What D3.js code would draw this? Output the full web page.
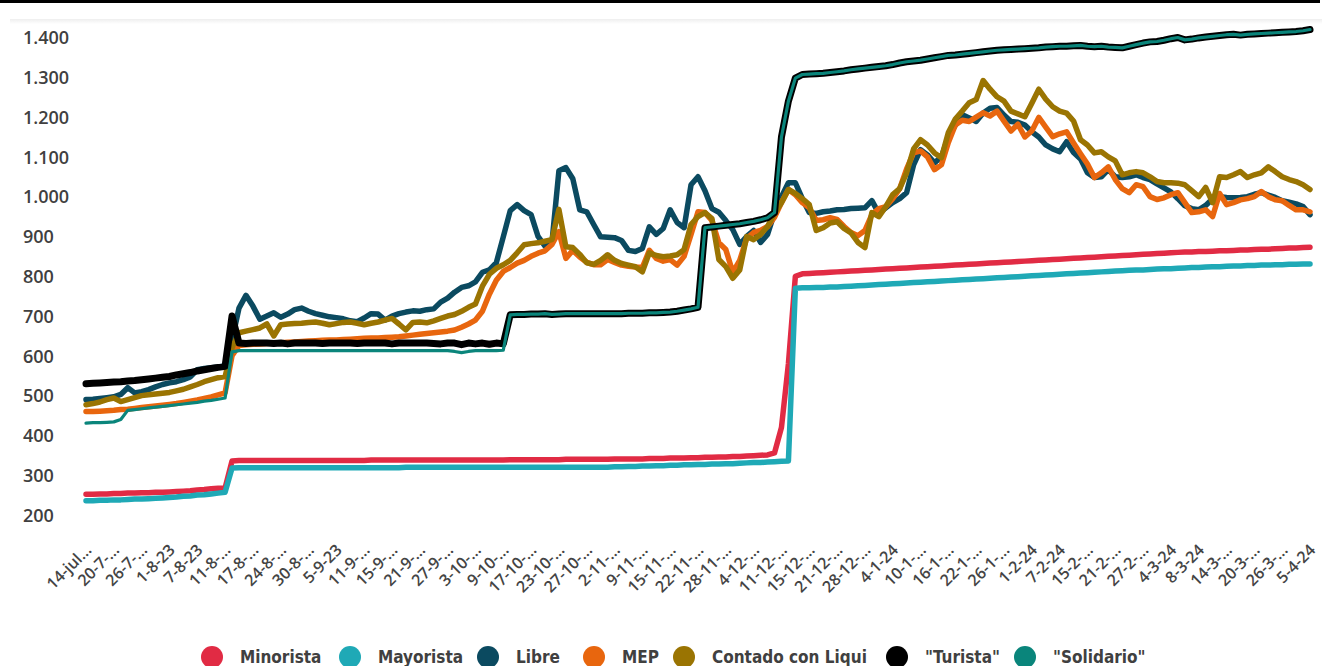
<!DOCTYPE html>
<html>
<head>
<meta charset="utf-8">
<script src="https://cdn.jsdelivr.net/npm/d3@7"></script>
<style>
  html, body { margin: 0; padding: 0; background: #fff; }
  svg { display: block; }
</style>
</head>
<body>
<svg id="chart" width="1322" height="666"></svg>
<script>
// Business-day labels shown under the axis (one every 4 trading days)
const tickLabels = ["14-jul…","20-7-…","26-7-…","1-8-23","7-8-23","11-8-…","17-8-…","24-8-…","30-8-…","5-9-23",
  "11-9-…","15-9-…","21-9-…","27-9-…","3-10-…","9-10-…","17-10-…","23-10-…","27-10-…","2-11-…",
  "9-11-…","15-11-…","22-11-…","28-11-…","4-12-…","11-12-…","15-12-…","21-12-…","28-12-…","4-1-24",
  "10-1-…","16-1-…","22-1-…","26-1-…","1-2-24","7-2-24","15-2-…","21-2-…","27-2-…","4-3-24",
  "8-3-24","14-3-…","20-3-…","26-3-…","5-4-24"];

const yTicks = [200,300,400,500,600,700,800,900,1000,1100,1200,1300,1400];

const seriesNames = ["Minorista","Mayorista","Libre","MEP","Contado con Liqui","\"Turista\"","\"Solidario\""];

// Daily quotes (ARS per USD), one value per trading day
const minorista = [252,252,253,253,254,254,255,255,256,256,257,257,258,259,260,261,263,264,266,267,268,
  336,
  337,337,337,337,337,337,337,337,337,337,337,337,337,337,337,337,337,337,337,
  338,338,338,338,338,338,338,338,338,338,338,338,338,338,338,338,338,338,338,338,
  339,339,339,339,339,339,339,339,340,340,340,340,340,340,340,341,341,341,341,341,
  342,342,342,343,343,343,344,344,345,345,346,346,347,347,348,349,350,351,
  356,420,580,800,
  806,807,808,809,810,811,812,813,814,815,
  816,817,818,819,820,821,822,823,824,825,
  826,827,828,829,830,831,832,833,834,835,
  836,837,838,839,840,841,842,843,844,845,
  846,847,848,849,850,851,852,853,854,855,
  856,857,858,859,860,861,861,862,862,863,
  864,864,865,866,866,867,868,868,869,870,
  871,871,872,873];

const mayorista = [236,236,237,237,238,238,239,240,240,241,242,243,244,245,247,248,250,251,253,255,257,
  318,
  319,319,319,319,319,319,319,319,319,319,319,319,319,319,319,319,319,319,319,319,319,319,319,319,
  320,320,320,320,320,320,320,320,320,320,320,320,320,320,320,320,320,320,320,320,320,320,320,320,320,320,320,320,320,320,
  321,321,322,322,323,323,324,324,325,325,326,326,327,327,328,328,329,329,330,331,332,332,333,334,335,
  336,770,
  771,771,772,772,773,773,774,775,776,777,
  778,779,780,781,782,783,784,785,786,787,
  788,789,790,791,792,793,794,795,796,797,
  798,799,800,801,802,803,804,805,806,807,
  808,809,810,811,812,813,814,815,816,816,
  817,818,819,819,820,821,822,822,823,824,
  824,825,826,826,827,827,828,828,829,829,
  830,830,831,831];

const libre = [490,491,493,495,497,503,520,507,510,515,522,528,532,535,540,547,565,568,570,572,575,
  640,720,752,725,692,700,708,697,705,716,720,712,706,702,698,696,693,688,686,695,
  706,705,690,700,706,710,713,712,716,718,735,745,760,772,776,786,810,816,834,899,
  965,980,965,955,900,876,885,1065,1073,1045,
  967,962,930,899,898,897,890,865,862,870,
  924,905,920,967,935,922,1030,1050,1015,970,
  961,940,917,880,900,915,885,905,960,1000,
  1035,1035,995,960,958,962,964,967,968,970,
  971,972,990,958,972,985,995,1010,1080,1118,
  1105,1085,1100,1150,1180,1206,1198,1189,1210,1222,
  1224,1205,1189,1187,1180,1163,1150,1130,1120,1113,
  1138,1111,1095,1060,1048,1050,1068,1050,1048,1050,
  1055,1048,1043,1032,1022,1012,995,977,970,967,
  978,995,1000,998,997,998,1000,1006,1010,1004,
  998,990,986,982,975,955];

const mep = [460,460,461,462,463,465,466,468,470,472,474,476,478,480,483,486,489,493,497,502,507,
  600,
  626,628,629,630,631,632,633,634,635,636,637,638,639,640,640,641,642,643,644,645,
  645,646,647,648,650,652,654,656,658,660,662,665,672,680,690,712,755,790,812,
  822,833,840,850,858,864,880,912,845,865,848,835,829,829,842,835,828,825,823,822,
  865,845,838,842,828,850,905,
  962,960,940,884,867,810,840,895,910,915,
  925,948,985,1018,1005,985,972,940,942,947,
  943,925,910,902,915,955,970,975,995,1020,
  1070,1110,1115,1100,1068,1080,1136,1180,1192,1189,
  1200,1211,1203,1215,1190,1165,1182,1150,1165,1199,
  1175,1151,1158,1163,1135,1108,1082,1048,1060,1075,
  1043,1020,1010,1030,1025,1000,993,997,1005,1010,
  985,960,962,967,950,1008,980,985,992,995,
  1000,1013,1000,992,990,978,967,967,962];

const ccl = [477,480,484,490,494,485,490,495,500,502,504,506,508,512,516,522,528,535,540,545,548,
  620,658,662,666,670,680,650,678,680,681,682,684,685,682,678,681,684,685,682,678,
  682,685,690,694,680,665,684,685,683,688,694,700,704,712,722,730,775,805,820,829,
  840,859,879,882,884,888,892,968,874,872,
  855,834,830,840,854,840,832,828,824,811,
  859,852,849,851,854,867,930,950,960,945,
  842,824,795,816,900,892,905,925,958,985,
  1018,1008,995,980,915,922,934,937,920,909,
  885,872,960,950,975,1005,1020,1060,1120,1143,
  1130,1110,1098,1161,1195,1215,1236,1244,1292,1270,
  1251,1240,1215,1208,1201,1235,1270,1245,1226,1215,
  1210,1190,1143,1130,1110,1113,1100,1090,1055,1060,
  1063,1060,1050,1038,1035,1035,1034,1030,1015,1000,
  1023,985,1050,1048,1055,1063,1048,1055,1060,1075,
  1063,1050,1043,1038,1030,1018];

const turista = [530,531,532,533,534,535,537,538,540,542,544,546,548,552,555,558,562,565,568,571,574,
  700,
  632,631,632,632,632,631,632,630,632,632,632,632,631,632,632,632,632,631,632,632,
  632,632,630,632,632,632,632,632,631,630,632,632,628,632,630,632,629,632,630,
  703,704,704,705,705,706,704,705,706,706,706,706,706,706,706,706,706,707,707,707,
  708,708,709,710,712,715,718,722,
  922,924,926,928,930,932,935,938,942,947,960,1150,1240,1298,1307,
  1308,1309,1310,1312,1314,1316,1319,1321,1323,1325,
  1327,1329,1332,1336,1339,1341,1343,1346,1349,1352,
  1355,1356,1358,1360,1362,1364,1366,1368,1369,1370,
  1371,1372,1373,1374,1376,1377,1378,1378,1379,1380,
  1378,1377,1378,1376,1375,1374,1378,1382,1386,1389,
  1390,1393,1397,1400,1394,1396,1399,1401,1403,1405,
  1407,1408,1406,1408,1409,1410,1411,1412,1413,1414,
  1415,1417,1420];

const solidario = [431,432,432,433,434,440,463,465,467,469,471,473,475,477,479,481,483,486,488,491,494,
  610,
  613,613,613,613,613,613,613,613,613,613,613,613,613,613,613,613,613,613,613,613,
  613,613,613,613,613,613,613,613,613,613,613,611,608,611,613,613,613,613,614,
  703,704,704,705,705,706,704,705,706,706,706,706,706,706,706,706,706,707,707,707,
  708,708,709,710,712,715,718,722,
  922,924,926,928,930,932,935,938,942,947,960,1150,1240,1298,1307,
  1308,1309,1310,1312,1314,1316,1319,1321,1323,1325,
  1327,1329,1332,1336,1339,1341,1343,1346,1349,1352,
  1355,1356,1358,1360,1362,1364,1366,1368,1369,1370,
  1371,1372,1373,1374,1376,1377,1378,1378,1379,1380,
  1378,1377,1378,1376,1375,1374,1378,1382,1386,1389,
  1390,1393,1397,1400,1394,1396,1399,1401,1403,1405,
  1407,1408,1406,1408,1409,1410,1411,1412,1413,1414,
  1415,1417,1420];

// ---- drawing ----
const W = 1322, H = 666;
const svg = d3.select("#chart");

const styles = [
  { color: "#E12B44", width: 5.5 },
  { color: "#1FA9B6", width: 5.5 },
  { color: "#0B4A60", width: 5.5 },
  { color: "#E8660E", width: 5.5 },
  { color: "#9A7402", width: 5.5 },
  { color: "#000000", width: 7 },
  { color: "#0A857B", width: 3.2 }
];
const seriesData = [minorista, mayorista, libre, mep, ccl, turista, solidario];

svg.append("rect").attr("width", W).attr("height", H).attr("fill", "#fff");

// header rule and its soft shadow
const defs = svg.append("defs");
const shade = defs.append("linearGradient").attr("id", "shade")
  .attr("x1", 0).attr("y1", 0).attr("x2", 0).attr("y2", 1);
shade.append("stop").attr("offset", "0%").attr("stop-color", "#eeeeee");
shade.append("stop").attr("offset", "100%").attr("stop-color", "#ffffff");
svg.append("rect").attr("x", 0).attr("y", 0).attr("width", 1320).attr("height", 3).attr("fill", "#000");
svg.append("rect").attr("x", 10).attr("y", 19).attr("width", W - 10).attr("height", 5).attr("fill", "url(#shade)");

const nPts = minorista.length;
const x = d3.scaleLinear().domain([0, nPts - 1]).range([86, 1310]);
const y = d3.scaleLinear().domain([200, 1400]).range([515, 37.5]);

const es = d3.formatLocale({ decimal: ",", thousands: ".", grouping: [3], currency: ["$", ""] });
const fmt = es.format(",d");

// y axis: labels only, left aligned
const gy = svg.append("g")
  .attr("transform", "translate(23,0)")
  .call(d3.axisLeft(y).tickValues(yTicks).tickSize(0).tickPadding(0).tickFormat(fmt));
gy.select(".domain").remove();
gy.selectAll("text")
  .attr("x", 0)
  .attr("dy", "0.35em")
  .attr("text-anchor", "start")
  .style("font-family", "'Open Sans', 'Noto Sans', sans-serif")
  .style("font-size", "18px")
  .style("font-weight", 600)
  .style("fill", "#404040");

// x axis: rotated date labels
const gx = svg.append("g")
  .attr("transform", "translate(0,551)")
  .call(d3.axisBottom(x)
    .tickValues(tickLabels.map((_, k) => k * 4))
    .tickSize(0)
    .tickFormat(d => tickLabels[d / 4]));
gx.select(".domain").remove();
gx.selectAll("text")
  .attr("x", 0).attr("y", 0).attr("dy", 0)
  .attr("text-anchor", "end")
  .attr("transform", "translate(6,0) rotate(-45)")
  .style("font-family", "'Open Sans', 'Noto Sans', sans-serif")
  .style("font-size", "16px")
  .style("font-weight", 600)
  .style("fill", "#444");

// series lines
const line = d3.line().x((d, i) => x(i)).y(d => y(d));
svg.append("g").selectAll("path")
  .data(seriesData)
  .join("path")
  .attr("d", d => line(d))
  .attr("fill", "none")
  .attr("stroke", (d, i) => styles[i].color)
  .attr("stroke-width", (d, i) => styles[i].width)
  .attr("stroke-linejoin", "round")
  .attr("stroke-linecap", "round");

// legend
const legendX = [212, 350, 488, 594, 684, 897, 1025];
const lg = svg.append("g").selectAll("g")
  .data(seriesNames)
  .join("g")
  .attr("transform", (d, i) => `translate(${legendX[i]},657)`);
lg.append("circle").attr("r", 11).attr("fill", (d, i) => styles[i].color);
lg.append("text")
  .attr("x", 28).attr("y", 5.5)
  .text(d => d)
  .style("font-family", "'DejaVu Sans Condensed', 'DejaVu Sans', sans-serif")
  .style("font-stretch", "condensed")
  .style("font-size", "17px")
  .style("font-weight", 700)
  .style("fill", "#404040");
</script>
</body>
</html>
